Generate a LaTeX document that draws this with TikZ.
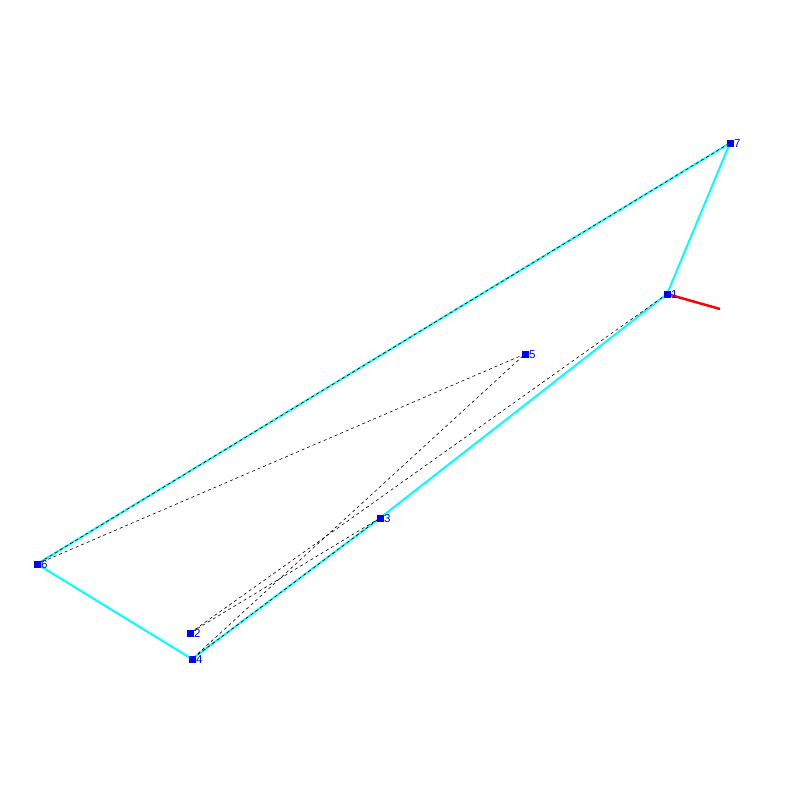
\documentclass[tikz,border=0pt]{standalone}
\usepackage{fontspec}
\setmainfont{Liberation Sans}
\begin{document}
\begin{tikzpicture}[x=1pt,y=-1pt,
  pt/.style={fill={rgb,255:red,0;green,0;blue,255},draw=none,minimum size=7pt,inner sep=0pt,outer sep=0pt,rectangle},
  lbl/.style={text={rgb,255:red,0;green,0;blue,255},font=\fontsize{11.5}{11.5}\selectfont,inner sep=0pt,anchor=west,xshift=4pt,yshift=-0.5pt},
  tour/.style={draw={rgb,255:red,0;green,255;blue,255},line width=2pt},
  route/.style={draw=black,line width=0.6pt,dash pattern=on 3pt off 3pt},
  dir/.style={draw={rgb,255:red,255;green,0;blue,0},line width=2.5pt}]
\useasboundingbox (0,0) rectangle (800,800);
\coordinate (p1) at (667,294);
\coordinate (p2) at (190,633);
\coordinate (p3) at (380,518);
\coordinate (p4) at (192,659);
\coordinate (p5) at (525,354);
\coordinate (p6) at (37,564);
\coordinate (p7) at (730,143);
\coordinate (r) at (720,309);
% cyan tour
\draw[tour] (p7) -- (p1) -- (p3) -- (p4) -- (p6) -- cycle;
% red heading
\draw[dir] (p1) -- (r);
% dashed route
\draw[route] (p1) -- (p2) -- (p3) -- (p4) -- (p5) -- (p6) -- (p7);
% markers
\foreach \i in {1,...,7}{
  \node[pt] (n\i) at (p\i) {};
  \node[lbl] (l\i) at (p\i) {\i};
}
\end{tikzpicture}
\end{document}
